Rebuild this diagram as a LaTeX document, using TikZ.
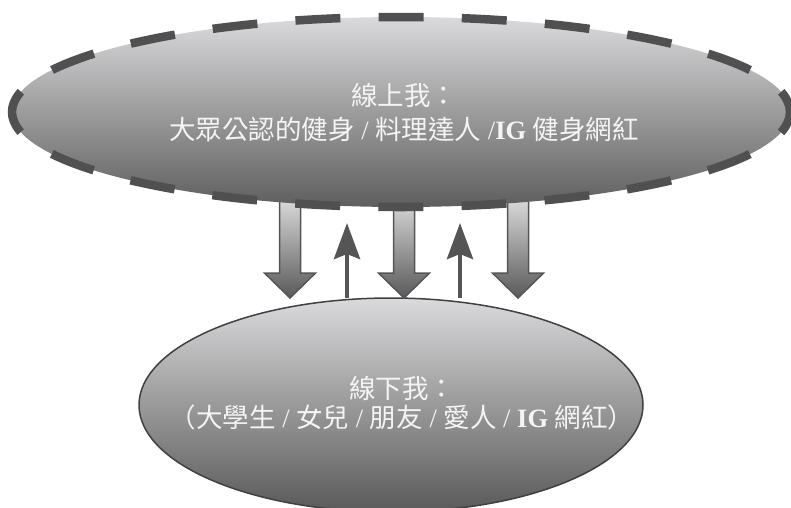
\documentclass[tikz,border=0pt]{standalone}
\usepackage{fontspec}
\setmainfont{Liberation Serif}
\newfontfamily\cjk{Noto Sans CJK TC}
\usetikzlibrary{shapes.geometric,arrows.meta}
\definecolor{dashgray}{HTML}{505050}
\definecolor{toplight}{HTML}{DADADC}
\definecolor{botdark}{HTML}{5E5E5E}
\definecolor{txtwhite}{HTML}{F4F4F4}
\definecolor{arrowgray}{HTML}{555555}
\tikzset{
  topell/.style={ellipse, minimum width=778pt, minimum height=190pt, inner sep=0pt,
    top color=toplight, bottom color=botdark, draw=dashgray, line width=8.5pt,
    dash pattern=on 45pt off 38.21pt, dash phase=22.5pt},
  botell/.style={ellipse, minimum width=504pt, minimum height=214pt, inner sep=0pt,
    top color=toplight, bottom color=botdark!95!black, draw=black!75, line width=1.5pt},
  lbl/.style={text=txtwhite, align=center, font=\fontsize{26.5}{34}\selectfont, inner sep=0pt},
  lblb/.style={lbl, font=\fontsize{26.5}{29.5}\selectfont},
  downarr/.style={draw=arrowgray, line width=1.5pt, top color=black!10, bottom color=black!65, line join=miter},
  uparr/.style={draw=arrowgray, line width=4.5pt, -{Stealth[length=36pt, width=26pt, inset=5pt]}}
}
\begin{document}
\begin{tikzpicture}[x=1pt, y=-1pt]
\useasboundingbox (0,0) rectangle (791,507);
% bottom ellipse
\node[botell] (bot) at (391,405) {};
% down block arrows
\foreach \cx/\nm in {290/da,404/db,518/dc}{
  \path[downarr] (\cx-10.5,190) -- (\cx+10.5,190) -- (\cx+10.5,273) -- (\cx+25.5,273)
     -- (\cx,298) coordinate (\nm) -- (\cx-25.5,273) -- (\cx-10.5,273) -- cycle;
}
% up arrows
\coordinate (ua0) at (347,298);
\coordinate (ua1) at (347,223);
\coordinate (ub0) at (460,298);
\coordinate (ub1) at (460,223);
\draw[uparr] (ua0) -- (ua1);
\draw[uparr] (ub0) -- (ub1);
% top ellipse
\node[topell] (top) at (401,112) {};
% labels
\node[lbl] (toptext) at (404,113) {{\cjk 線上我：}\\{\cjk 大眾公認的健身} / {\cjk 料理達人} /\textbf{IG} {\cjk 健身網紅}};
\node[lblb] (bottext) at (402,403) {{\cjk 線下我：}\\{\cjk （大學生} / {\cjk 女兒} / {\cjk 朋友} / {\cjk 愛人} / \textbf{IG} {\cjk 網紅）}};
\end{tikzpicture}
\end{document}
